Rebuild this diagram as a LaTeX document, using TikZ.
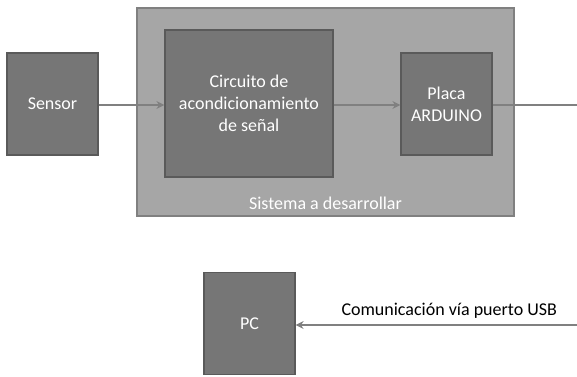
\documentclass[tikz,border=0pt]{standalone}
\usepackage{fontspec}
\setmainfont{Carlito}
\usetikzlibrary{arrows.meta}
\definecolor{cajagris}{RGB}{118,118,118}
\definecolor{fondogris}{RGB}{166,166,166}
\definecolor{bordegris}{RGB}{90,90,90}
\definecolor{lineagris}{RGB}{128,128,128}
\begin{document}
\begin{tikzpicture}[x=1pt, y=-1pt, font=\fontsize{18}{22}\selectfont, >={Stealth[length=8pt,width=8pt]}]
            \useasboundingbox (0,0) rectangle (577,376);
            \node[draw=lineagris, fill=fondogris, line width=1.5pt, minimum width=377pt, minimum height=208pt] (sistema) at (325.5,112) {};
            \node[text=white] (sistlabel) at (325.5,203) {Sistema a desarrollar};
            \begin{scope}[every node/.style={draw=bordegris, fill=cajagris, line width=1.2pt, text=white, align=center, minimum width=91pt, minimum height=102pt, inner sep=0pt}]
            \node (sensor) at (52.5,104) {Sensor};
            \node[minimum width=168pt, minimum height=147pt] (acond) at (249,103.5) {Circuito de\\acondicionamiento\\de señal};
            \node (placa) at (446.5,104) {Placa\\ARDUINO};
            \node (pc) at (249.5,323.5) {PC};
            \end{scope}
            \coordinate (salida) at (577,105);
            \coordinate (usb) at (577,325);
            \begin{scope}[every path/.style={draw=lineagris, line width=2.2pt}]
            \draw[->] (sensor.east |- 0,105) -- (acond.west |- 0,105);
            \draw[->] (acond.east |- 0,105) -- (placa.west |- 0,105);
            \draw (placa.east |- 0,105) -- (salida);
            \draw[->] (usb) -- node[pos=0.454, above=2pt, text=black, draw=none]{Comunicación vía puerto USB} (pc.east |- usb);
            \end{scope}
            \end{tikzpicture}
\end{document}
